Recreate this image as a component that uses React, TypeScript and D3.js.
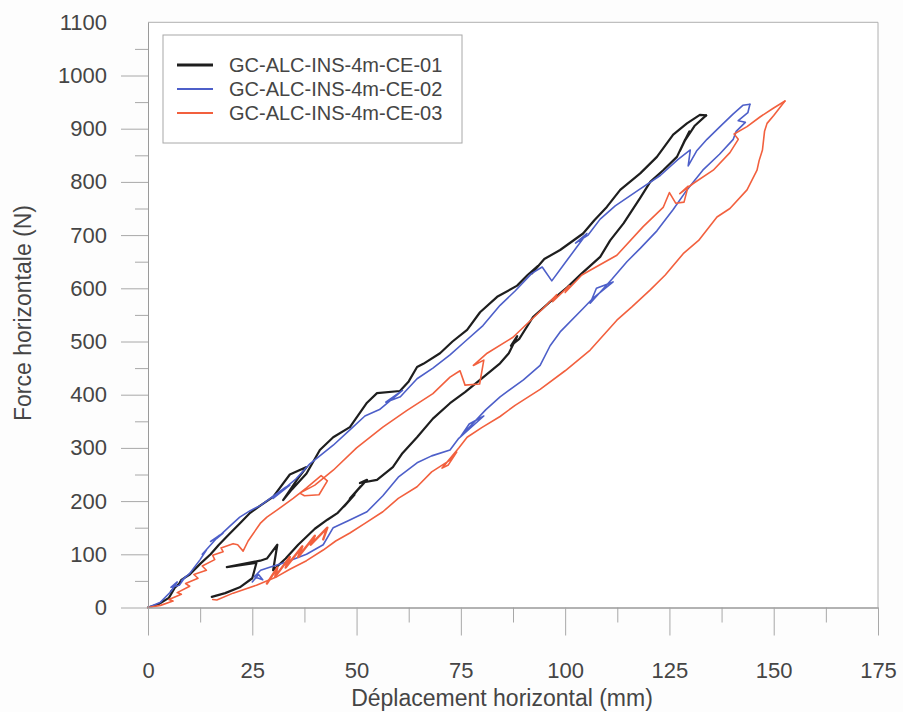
import { useEffect, useRef } from "react";
import * as d3 from "d3";

const width = 903;
const height = 712;
const plotLeft = 148;
const plotRight = 878;
const plotTop = 22.3;
const plotBottom = 607.5;

const xTicks = [0, 25, 50, 75, 100, 125, 150, 175];
const xMinorTicks = [12.5, 37.5, 62.5, 87.5, 112.5, 137.5, 162.5];
const yTicks = [0, 100, 200, 300, 400, 500, 600, 700, 800, 900, 1000, 1100];
const yMinorTicks = [50, 150, 250, 350, 450, 550, 650, 750, 850, 950, 1050];

const seriesNames = ["GC-ALC-INS-4m-CE-01", "GC-ALC-INS-4m-CE-02", "GC-ALC-INS-4m-CE-03"];
const seriesColors = ["#1e1e1e", "#4d5fc9", "#f2603e"];
const seriesWidths = [2.2, 1.6, 1.6];

// [déplacement mm, force N]
const load01: [number, number][] = [
  [0, 0], [2.5, 6], [5, 18], [6.5, 38], [5.5, 30], [7.5, 45], [8, 52], [10, 62], [12.5, 82],
  [15, 100], [17, 118], [19.5, 138], [22, 158], [24.5, 178], [27, 192], [30, 208], [34, 250],
  [38, 264], [35.7, 240], [32.4, 202], [34.5, 222], [38, 252], [41.2, 296], [44.4, 320],
  [48.4, 339], [52.5, 385], [54.9, 403], [60.4, 407], [62.5, 425], [64.5, 452], [66, 458],
  [70, 478], [73, 500], [76.5, 522], [79.6, 555], [83.7, 584], [88.5, 605], [91, 625],
  [93.5, 642], [92, 628], [95, 655], [98.8, 672], [104.3, 703], [107, 728], [110, 753],
  [113.2, 785], [118, 816], [122, 847], [125.9, 889], [129.2, 910], [132.3, 926], [133.8, 925],
];
const unload01: [number, number][] = [
  [133.8, 925], [131, 905], [128.5, 875], [129.8, 895], [127.5, 858], [128.8, 880], [126.8, 847],
  [123.5, 822], [120.4, 800], [118, 770], [114, 722], [110.8, 690], [108.4, 659], [104, 628],
  [100.5, 602], [96, 572], [92.3, 546], [89, 505], [87, 492], [88.5, 510], [86.5, 478],
  [84.4, 459], [79.6, 428], [76, 405], [72.4, 384], [68.3, 355], [64.5, 320], [61, 290],
  [58.7, 264], [54.9, 240], [50.8, 234], [52.5, 240], [48.4, 205], [51, 228], [47, 190],
  [49.5, 212], [45.5, 178], [43, 165], [40, 148], [36, 118], [33, 92], [30, 70], [31, 118],
  [28.5, 92], [26.9, 88], [18.9, 76], [26, 84], [25, 55], [22, 38], [18.5, 27], [15.3, 20],
];

const load02: [number, number][] = [
  [0, 0], [3, 10], [5.5, 30], [7, 48], [5.5, 38], [7.5, 42], [9, 58], [8, 50], [10, 64],
  [12.5, 90], [14, 108], [13, 100], [17, 135], [15, 124], [18, 140], [16.5, 130], [19.5, 152],
  [22, 170], [24.5, 182], [27, 192], [33, 226], [30, 205], [34, 230], [31, 212], [35.5, 242],
  [38.8, 270], [44.4, 305], [48.4, 334], [52, 360], [55.5, 372], [61, 408], [57, 386],
  [60.5, 396], [64.5, 430], [68.3, 450], [72.4, 475], [76, 500], [80.3, 530], [84.4, 568],
  [88, 595], [92, 628], [94.5, 640], [96.8, 614], [100, 648], [105.2, 703], [102.5, 685],
  [105.5, 700], [108.4, 730], [112, 755], [118, 787], [122.8, 812], [127, 842], [130, 860],
  [129.5, 830], [131.5, 858], [134, 880], [137, 903], [140.3, 928], [142.6, 944], [144.3, 946],
];
const unload02: [number, number][] = [
  [144.3, 946], [143.8, 930], [141.5, 915], [143.2, 912], [141, 895], [140.3, 880], [137, 852],
  [133, 822], [129.2, 785], [125.9, 748], [122, 708], [118, 675], [114.8, 650], [111.2, 617],
  [106, 572], [107.5, 600], [111.5, 612], [106.5, 580], [104.3, 562], [98.8, 518], [96.4, 492],
  [94, 455], [90, 428], [84.4, 396], [81, 372], [75, 322], [77, 345], [80.5, 360], [74.5, 318],
  [72.4, 296], [68, 285], [64.5, 272], [60, 245], [56.3, 210], [52.5, 180], [48, 163],
  [44.4, 150], [42, 118], [38, 100], [33, 85], [29, 75], [27, 70], [25.5, 58], [27.5, 52],
  [26.5, 62], [25, 48],
];

const load03: [number, number][] = [
  [0, 0], [3, 4], [6, 12], [5, 15], [8, 25], [7, 28], [10, 40], [9, 45], [12, 55], [11, 62],
  [14, 70], [13, 78], [16, 90], [15.5, 98], [18, 105], [17.5, 112], [20.4, 120], [21.5, 118],
  [22.8, 106], [24, 125], [26.9, 158], [28.5, 170], [30.9, 183], [34.8, 205], [38, 225],
  [41.5, 248], [43, 238], [41, 212], [37.5, 210], [36.4, 215], [40, 230], [44.4, 258],
  [50, 300], [56.3, 339], [62, 370], [68.3, 402], [72.4, 433], [74.8, 445], [76, 418],
  [79.5, 420], [80.5, 465], [78, 455], [81.3, 478], [87.5, 508], [94.7, 562], [98, 588],
  [97, 575], [101, 605], [100, 592], [104, 625], [106, 634], [112.4, 662], [118.7, 716],
  [123.5, 752], [125, 780], [126.5, 760], [128.5, 762], [129.5, 792], [127.5, 778],
  [130.7, 797], [135.5, 822], [139.5, 855], [141.5, 880], [140.5, 890], [143.6, 904],
  [146.7, 922], [149.8, 938], [152.7, 952],
];
const unload03: [number, number][] = [
  [152.7, 952], [150, 925], [148.4, 910], [147.8, 895], [147.3, 860], [146.5, 840], [146, 822],
  [143.6, 785], [139.5, 750], [136.4, 734], [132, 690], [128.3, 665], [124, 625], [120.4, 597],
  [116, 565], [112.4, 540], [106, 484], [100, 445], [94, 410], [88, 380], [84.4, 359],
  [80, 338], [76.5, 320], [74.5, 300], [70.5, 262], [72, 268], [74, 292], [72.4, 277],
  [68, 255], [64.5, 227], [60, 205], [56.3, 180], [52, 158], [48.4, 140], [45, 125], [42, 108],
  [38, 88], [34, 72], [30.9, 58], [26, 42], [20.4, 27], [16.5, 14], [15.5, 15],
];
// dense small cycles (lower branch, CE-03)
const band03: [number, number][] = [
  [28.5, 45], [31, 75], [30.5, 58], [34, 95], [33, 75], [37, 115], [36, 95], [40, 135],
  [39, 118], [43, 150], [42, 128],
];

const seriesPaths = [
  [load01, unload01],
  [load02, unload02],
  [load03, unload03, band03],
];

const font = "'Liberation Sans', Arial, sans-serif";

const App = () => {
  const ref = useRef<SVGSVGElement>(null);

  const xScale = d3.scaleLinear().domain([0, 175]).range([plotLeft, plotRight]);
  const yScale = d3.scaleLinear().domain([0, 1100]).range([plotBottom, plotTop]);
  const line = d3
    .line<[number, number]>()
    .x((d) => xScale(d[0]))
    .y((d) => yScale(d[1]));

  useEffect(() => {
    const svg = d3.select(ref.current);
    const fmt = d3.format("d");
    svg
      .select<SVGGElement>(".x-axis")
      .call(
        d3.axisBottom(xScale).tickValues(xTicks).tickFormat((d) => fmt(d as number))
          .tickSize(28).tickPadding(27).tickSizeOuter(0)
      );
    svg
      .select<SVGGElement>(".x-minor")
      .call(d3.axisBottom(xScale).tickValues(xMinorTicks).tickSize(15).tickFormat(() => "").tickSizeOuter(0));
    svg
      .select<SVGGElement>(".y-axis")
      .call(
        d3.axisLeft(yScale).tickValues(yTicks).tickFormat((d) => fmt(d as number))
          .tickSize(27).tickPadding(14).tickSizeOuter(0)
      );
    svg
      .select<SVGGElement>(".y-minor")
      .call(d3.axisLeft(yScale).tickValues(yMinorTicks).tickSize(13).tickFormat(() => "").tickSizeOuter(0));
    svg.selectAll(".axis path.domain").attr("stroke", "#9a9a9a");
    svg.selectAll(".axis .tick line").attr("stroke", "#a8a8a8");
    svg
      .selectAll(".axis text")
      .attr("font-size", "22px")
      .attr("font-family", font)
      .attr("fill", "#454545");
    svg.select(".y-axis").selectAll(".tick").filter((d) => d === 1100).select("line").remove();
  }, []);

  return (
    <svg
      ref={ref}
      width={width}
      height={height}
      viewBox={`0 0 ${width} ${height}`}
      style={{ position: "absolute", left: 0, top: 0, background: "#fdfdfd" }}
    >
      <rect x={plotLeft} y={plotTop} width={plotRight - plotLeft} height={plotBottom - plotTop} fill="#ffffff" />
      <line x1={plotLeft} x2={plotRight} y1={plotTop} y2={plotTop} stroke="#b0b0b0" />
      <line x1={plotRight} x2={plotRight} y1={plotTop} y2={plotBottom} stroke="#b0b0b0" />

      <g className="curves" fill="none" strokeLinejoin="round" strokeLinecap="round">
        {seriesPaths.map((parts, i) =>
          parts.map((pts, j) => (
            <path
              key={`${i}-${j}`}
              d={line(pts) ?? ""}
              stroke={seriesColors[i]}
              strokeWidth={j === 2 ? 2.4 : seriesWidths[i]}
            />
          ))
        )}
      </g>

      <g className="axis x-minor" transform={`translate(0,${plotBottom})`} />
      <g className="axis x-axis" transform={`translate(0,${plotBottom})`} />
      <g className="axis y-minor" transform={`translate(${plotLeft},0)`} />
      <g className="axis y-axis" transform={`translate(${plotLeft},0)`} />

      <g className="legend">
        <rect x={163} y={35} width={299} height={108} fill="#ffffff" stroke="#a8a8a8" />
        {seriesNames.map((name, i) => (
          <g key={name} transform={`translate(0,${65 + i * 24})`}>
            <line x1={177} x2={213} y1={0} y2={0} stroke={seriesColors[i]} strokeWidth={i === 0 ? 3 : 2} />
            <text x={229} y={0} dy="0.35em" fontSize={20} fontFamily={font} fill="#454545">
              {name}
            </text>
          </g>
        ))}
      </g>

      <text x={502} y={706} textAnchor="middle" fontSize={23} fontFamily={font} fill="#454545">
        Déplacement horizontal (mm)
      </text>
      <text
        transform={`translate(31,313) rotate(-90)`}
        textAnchor="middle"
        fontSize={23}
        fontFamily={font}
        fill="#454545"
      >
        Force horizontale (N)
      </text>
    </svg>
  );
};

export default App;
